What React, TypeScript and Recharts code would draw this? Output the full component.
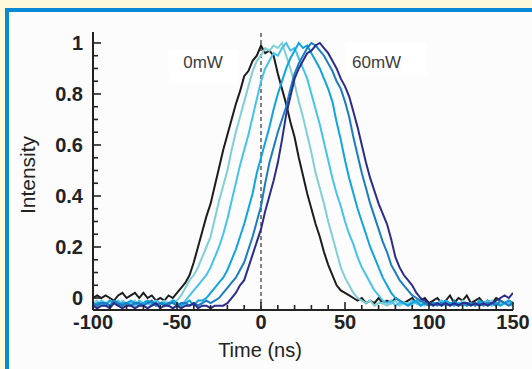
import React from 'react';
import {
  LineChart,
  Line,
  XAxis,
  YAxis,
  ReferenceLine,
  ReferenceArea,
  ReferenceDot,
} from 'recharts';

// Time samples (ns)
const TIME = [
  -100, -97.5, -95, -92.5, -90, -87.5, -85, -82.5, -80, -77.5,
  -75, -72.5, -70, -67.5, -65, -62.5, -60, -57.5, -55, -52.5,
  -50, -47.5, -45, -42.5, -40, -37.5, -35, -32.5, -30, -27.5,
  -25, -22.5, -20, -17.5, -15, -12.5, -10, -7.5, -5, -2.5,
  0, 2.5, 5, 7.5, 10, 12.5, 15, 17.5, 20, 22.5,
  25, 27.5, 30, 32.5, 35, 37.5, 40, 42.5, 45, 47.5,
  50, 52.5, 55, 57.5, 60, 62.5, 65, 67.5, 70, 72.5,
  75, 77.5, 80, 82.5, 85, 87.5, 90, 92.5, 95, 97.5,
  100, 102.5, 105, 107.5, 110, 112.5, 115, 117.5, 120, 122.5,
  125, 127.5, 130, 132.5, 135, 137.5, 140, 142.5, 145, 147.5,
  150,
];

// 0 mW (black)
const P0 = [
  0.00, 0.01, 0.00, 0.01, 0.00, -0.01, 0.01, 0.02, 0.00, 0.01,
  0.02, 0.00, 0.02, 0.00, 0.01, -0.01, 0.00, -0.01, 0.01, 0.00,
  0.02, 0.04, 0.06, 0.09, 0.14, 0.20, 0.26, 0.32, 0.37, 0.44,
  0.51, 0.58, 0.64, 0.70, 0.76, 0.81, 0.87, 0.89, 0.93, 0.95,
  0.99, 0.96, 0.97, 0.95, 0.88, 0.82, 0.76, 0.69, 0.63, 0.55,
  0.48, 0.41, 0.35, 0.29, 0.24, 0.18, 0.13, 0.09, 0.05, 0.03,
  0.02, 0.01, 0.00, -0.01, 0.00, -0.02, -0.01, -0.02, 0.00, -0.02,
  -0.01, -0.02, 0.00, -0.01, -0.02, -0.01, 0.00, -0.02, -0.01, 0.00,
  -0.02, -0.01, 0.00, -0.02, -0.01, 0.01, -0.02, 0.00, -0.01, 0.01,
  -0.02, -0.01, 0.00, -0.02, -0.01, -0.02, 0.00, -0.01, -0.02, -0.01,
  -0.02,
];

// 12 mW (light teal)
const P12 = [
  -0.02, -0.01, -0.03, -0.02, -0.01, -0.02, -0.03, -0.01, -0.02, -0.02,
  -0.01, -0.03, -0.02, -0.01, -0.02, -0.03, -0.02, -0.01, -0.02, -0.01,
  -0.01, 0.01, 0.04, 0.07, 0.09, 0.12, 0.16, 0.20, 0.24, 0.31,
  0.38, 0.44, 0.50, 0.58, 0.65, 0.71, 0.77, 0.83, 0.89, 0.93,
  0.95, 0.98, 0.97, 0.99, 0.98, 1.00, 0.95, 0.90, 0.84, 0.77,
  0.71, 0.64, 0.57, 0.49, 0.43, 0.37, 0.30, 0.24, 0.18, 0.12,
  0.08, 0.05, 0.02, 0.00, -0.01, -0.02, -0.01, -0.03, -0.02, -0.02,
  -0.03, -0.02, -0.01, -0.03, -0.02, -0.02, -0.03, -0.01, -0.02, -0.03,
  -0.02, -0.03, -0.02, -0.01, -0.03, -0.02, -0.02, -0.03, -0.01, -0.02,
  -0.03, -0.02, -0.02, -0.03, -0.02, -0.01, -0.03, -0.02, -0.02, -0.03,
  -0.02,
];

// 24 mW (light blue)
const P24 = [
  -0.02, -0.03, -0.01, -0.02, -0.03, -0.02, -0.01, -0.03, -0.02, -0.02,
  -0.03, -0.01, -0.02, -0.02, -0.03, -0.01, -0.02, -0.03, -0.02, -0.01,
  -0.02, -0.03, -0.01, 0.01, 0.03, 0.05, 0.07, 0.09, 0.12, 0.16,
  0.20, 0.25, 0.31, 0.38, 0.45, 0.52, 0.58, 0.64, 0.71, 0.78,
  0.85, 0.90, 0.93, 0.96, 0.95, 0.98, 1.00, 0.97, 0.98, 0.94,
  0.90, 0.86, 0.80, 0.74, 0.68, 0.61, 0.54, 0.47, 0.41, 0.36,
  0.30, 0.25, 0.21, 0.16, 0.12, 0.09, 0.06, 0.03, 0.01, -0.01,
  -0.02, -0.01, -0.03, -0.02, -0.02, -0.03, -0.01, -0.02, -0.03, -0.02,
  -0.02, -0.03, -0.02, -0.01, -0.03, -0.02, -0.03, -0.02, -0.02, -0.03,
  -0.02, -0.03, -0.02, -0.02, -0.01, -0.03, -0.02, -0.03, -0.02, -0.02,
  -0.03,
];

// 36 mW (blue)
const P36 = [
  -0.03, -0.02, -0.02, -0.03, -0.01, -0.02, -0.03, -0.02, -0.02, -0.01,
  -0.02, -0.03, -0.02, -0.01, -0.02, -0.03, -0.02, -0.02, -0.03, -0.01,
  -0.02, -0.03, -0.02, -0.01, -0.03, -0.01, -0.01, 0.00, 0.02, 0.04,
  0.06, 0.08, 0.11, 0.15, 0.19, 0.24, 0.29, 0.35, 0.41, 0.49,
  0.55, 0.61, 0.67, 0.74, 0.80, 0.85, 0.90, 0.94, 0.97, 1.00,
  0.98, 0.99, 0.96, 0.93, 0.90, 0.86, 0.82, 0.77, 0.69, 0.62,
  0.54, 0.47, 0.41, 0.35, 0.30, 0.25, 0.20, 0.16, 0.12, 0.08,
  0.05, 0.02, 0.00, -0.01, -0.02, -0.03, -0.02, -0.01, -0.03, -0.02,
  -0.03, -0.02, -0.02, -0.03, -0.01, -0.02, -0.03, -0.02, -0.03, -0.02,
  -0.02, -0.03, -0.01, -0.02, -0.03, -0.02, -0.02, -0.03, -0.02, -0.01,
  -0.02,
];

// 48 mW (medium blue)
const P48 = [
  -0.02, -0.03, -0.02, -0.02, -0.03, -0.01, -0.02, -0.03, -0.02, -0.03,
  -0.02, -0.02, -0.03, -0.02, -0.01, -0.03, -0.02, -0.03, -0.02, -0.02,
  -0.03, -0.02, -0.02, -0.03, -0.02, -0.03, -0.02, -0.01, -0.02, -0.01,
  0.00, 0.02, 0.04, 0.06, 0.08, 0.11, 0.14, 0.19, 0.24, 0.30,
  0.36, 0.45, 0.53, 0.59, 0.65, 0.70, 0.75, 0.82, 0.88, 0.92,
  0.95, 0.98, 1.00, 0.99, 0.97, 0.95, 0.92, 0.89, 0.85, 0.82,
  0.77, 0.71, 0.63, 0.56, 0.49, 0.43, 0.37, 0.32, 0.27, 0.22,
  0.18, 0.13, 0.10, 0.07, 0.05, 0.03, 0.01, 0.00, -0.01, -0.02,
  -0.03, -0.02, -0.03, -0.02, -0.02, -0.03, -0.01, -0.03, -0.02, -0.03,
  -0.02, -0.03, -0.02, -0.03, -0.02, -0.02, -0.03, -0.01, -0.02, -0.03,
  -0.02,
];

// 60 mW (navy)
const P60 = [
  -0.03, -0.04, -0.03, -0.03, -0.04, -0.02, -0.03, -0.04, -0.03, -0.03,
  -0.04, -0.03, -0.03, -0.04, -0.03, -0.02, -0.04, -0.03, -0.03, -0.04,
  -0.03, -0.04, -0.03, -0.03, -0.02, -0.04, -0.03, -0.03, -0.04, -0.03,
  -0.03, -0.03, -0.02, 0.00, 0.02, 0.05, 0.07, 0.12, 0.17, 0.22,
  0.27, 0.34, 0.40, 0.46, 0.53, 0.62, 0.72, 0.79, 0.86, 0.90,
  0.93, 0.96, 0.97, 0.99, 1.00, 0.98, 0.96, 0.93, 0.90, 0.86,
  0.83, 0.79, 0.73, 0.67, 0.60, 0.53, 0.47, 0.42, 0.37, 0.33,
  0.29, 0.23, 0.16, 0.12, 0.09, 0.07, 0.05, 0.02, 0.00, -0.01,
  -0.02, -0.03, -0.02, -0.03, -0.02, -0.03, -0.02, -0.03, -0.02, -0.02,
  -0.03, -0.02, -0.03, -0.02, -0.03, -0.02, -0.01, 0.00, 0.01, 0.00,
  0.02,
];

const SERIES = [
  { key: 'p0', values: P0, color: '#1c1c1c' },
  { key: 'p12', values: P12, color: '#7fd0d6' },
  { key: 'p24', values: P24, color: '#45c2ee' },
  { key: 'p36', values: P36, color: '#10a3e2' },
  { key: 'p48', values: P48, color: '#1a7cc1' },
  { key: 'p60', values: P60, color: '#2b2c8c' },
];

const X_TICKS = [-100, -90, -80, -70, -60, -50, -40, -30, -20, -10, 0, 10, 20, 30, 40, 50, 60, 70, 80, 90, 100, 110, 120, 130, 140, 150];
const X_LABELED = [-100, -50, 0, 50, 100, 150];
const Y_TICKS = [0, 0.05, 0.1, 0.15, 0.2, 0.25, 0.3, 0.35, 0.4, 0.45, 0.5, 0.55, 0.6, 0.65, 0.7, 0.75, 0.8, 0.85, 0.9, 0.95, 1];
const Y_LABELED = [0, 0.2, 0.4, 0.6, 0.8, 1];
const Y_LABEL_TEXT = ['0', '0.2', '0.4', '0.6', '0.8', '1'];

const X_DOMAIN: [number, number] = [-100, 150];
const Y_DOMAIN: [number, number] = [-0.047, 1.043];

const FONT = "'Liberation Sans', Arial, Helvetica, sans-serif";
const INK = '#222222';

const data = TIME.map((t, i) => {
  const row: Record<string, number> = { t };
  SERIES.forEach((s) => {
    row[s.key] = s.values[i];
  });
  return row;
});

const X_MARGIN = 5;
const Y_MARGIN = 10;

function XTick(props: any) {
  const { x, y, payload } = props;
  const v = payload.value;
  const idx = X_LABELED.findIndex((m) => Math.abs(m - v) < 1e-6);
  const major = idx >= 0;
  const ay = y - X_MARGIN;
  return (
    <g>
      <line x1={x} x2={x} y1={ay} y2={ay - (major ? 8 : 5)} stroke={INK} strokeWidth={1.6} />
      {major && (
        <text x={x} y={y} dy="0.71em" textAnchor="middle" fill={INK} fontFamily={FONT} fontWeight={700} fontSize={20}>
          {String(v)}
        </text>
      )}
    </g>
  );
}

function YTick(props: any) {
  const { x, y, payload } = props;
  const v = payload.value;
  const idx = Y_LABELED.findIndex((m) => Math.abs(m - v) < 1e-6);
  const major = idx >= 0;
  const ax = x + Y_MARGIN;
  return (
    <g>
      <line x1={ax} x2={ax + (major ? 8 : 5)} y1={y} y2={y} stroke={INK} strokeWidth={1.6} />
      {major && (
        <text x={x} y={y} dy="0.355em" textAnchor="end" fill={INK} fontFamily={FONT} fontWeight={700} fontSize={20}>
          {Y_LABEL_TEXT[idx]}
        </text>
      )}
    </g>
  );
}

function XLabel(props: any) {
  const { viewBox } = props;
  return (
    <text x={viewBox.x + 167} y={viewBox.y + 47} textAnchor="middle" fill={INK} fontFamily={FONT} fontSize={20}>
      Time (ns)
    </text>
  );
}

function YLabel(props: any) {
  const { viewBox } = props;
  const cx = viewBox.x + 35;
  const cy = viewBox.y + viewBox.height / 2 + 4;
  return (
    <text x={cx} y={cy} transform={`rotate(-90 ${cx} ${cy})`} textAnchor="middle" fill={INK} fontFamily={FONT} fontSize={21}>
      Intensity
    </text>
  );
}

export default function App() {
  return (
    <div style={{ position: 'absolute', left: 0, top: 0, width: 532, height: 369, background: '#fef9da', overflow: 'hidden' }}>
      <div
        style={{
          position: 'absolute',
          left: 5,
          top: 8,
          width: 540,
          height: 380,
          borderLeft: '4px solid #0a8ad4',
          borderTop: '4px solid #0a8ad4',
          background: '#fcfcfc',
        }}
      />
      <div style={{ position: 'absolute', left: 0, top: 0 }}>
        <LineChart width={532} height={369} data={data} margin={{ top: 32, right: 19, bottom: 0, left: 0 }}>
          <XAxis
            dataKey="t"
            type="number"
            domain={X_DOMAIN}
            ticks={X_TICKS}
            interval={0}
            tick={<XTick />}
            tickSize={0}
            tickMargin={X_MARGIN}
            tickLine={false}
            axisLine={{ stroke: INK, strokeWidth: 2 }}
            height={59}
            allowDataOverflow
            label={<XLabel />}
          />
          <XAxis
            xAxisId="top"
            orientation="top"
            dataKey="t"
            type="number"
            domain={X_DOMAIN}
            height={0}
            tick={false}
            tickLine={false}
            axisLine={{ stroke: INK, strokeWidth: 2 }}
            allowDataOverflow
          />
          <YAxis
            type="number"
            domain={Y_DOMAIN}
            ticks={Y_TICKS}
            interval={0}
            tick={<YTick />}
            tickSize={0}
            tickMargin={Y_MARGIN}
            tickLine={false}
            axisLine={{ stroke: INK, strokeWidth: 2 }}
            width={93}
            allowDataOverflow
            label={<YLabel />}
          />
          <YAxis
            yAxisId="right"
            orientation="right"
            type="number"
            domain={Y_DOMAIN}
            width={0}
            tick={false}
            tickLine={false}
            axisLine={{ stroke: INK, strokeWidth: 2 }}
            allowDataOverflow
          />
          <ReferenceArea x1={-55} x2={-13.7} y1={0.843} y2={0.973} fill="#ffffff" fillOpacity={1} stroke="none" />
          <ReferenceArea x1={50} x2={98.8} y1={0.875} y2={1.0} fill="#ffffff" fillOpacity={1} stroke="none" />
          <ReferenceDot
            x={-34.5}
            y={0.927}
            r={0}
            fill="none"
            stroke="none"
            label={{ value: '0mW', position: 'center', fill: '#3c3c3c', fontSize: 17, fontFamily: FONT }}
          />
          <ReferenceDot
            x={68.8}
            y={0.927}
            r={0}
            fill="none"
            stroke="none"
            label={{ value: '60mW', position: 'center', fill: '#3c3c3c', fontSize: 17, fontFamily: FONT }}
          />
          <ReferenceLine x={0} stroke="#333333" strokeWidth={1.2} strokeDasharray="4 3" />
          {SERIES.map((s) => (
            <Line
              key={s.key}
              dataKey={s.key}
              type="linear"
              stroke={s.color}
              strokeWidth={2}
              dot={false}
              activeDot={false}
              isAnimationActive={false}
            />
          ))}
        </LineChart>
      </div>
    </div>
  );
}
